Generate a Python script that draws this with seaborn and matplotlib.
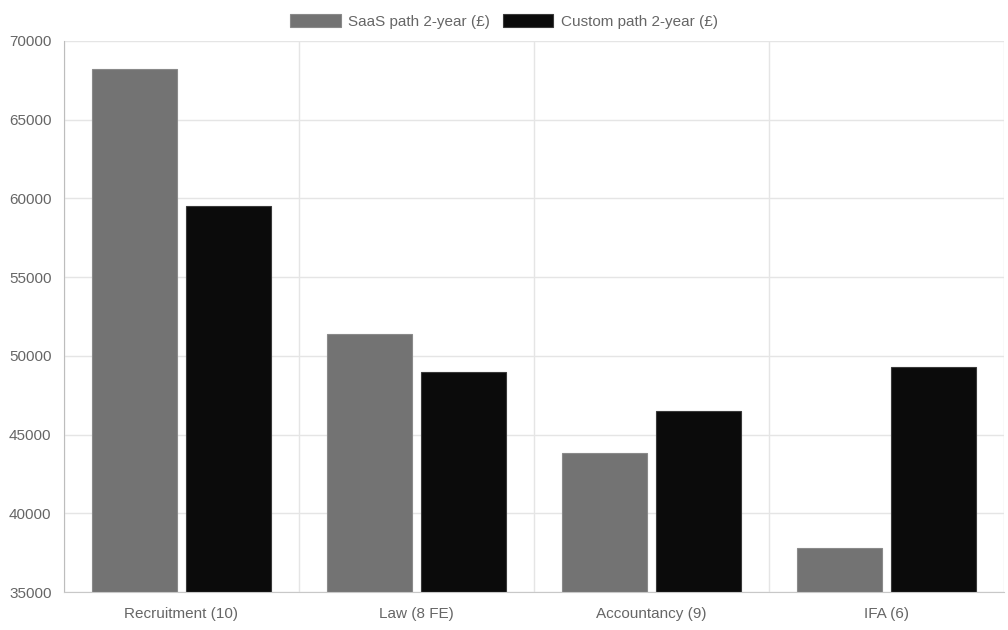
"""Two-year cost by sector: SaaS path vs custom path

"""

import pandas as pd
import seaborn as sns
import matplotlib.pyplot as plt
from matplotlib.ticker import FixedLocator

categories = ["Recruitment (10)", "Law (8 FE)", "Accountancy (9)", "IFA (6)"]
series_names = ["SaaS path 2-year (£)", "Custom path 2-year (£)"]
saas_values = [68200, 51400, 43800, 37800]
custom_values = [59500, 49000, 46500, 49300]
y_ticks = [35000, 40000, 45000, 50000, 55000, 60000, 65000, 70000]

TEXT = "#666666"
GRID = "#e5e5e5"

sns.set_style("white")
plt.rcParams["font.family"] = ["Liberation Sans", "DejaVu Sans"]

df = pd.DataFrame({
    "category": categories * 2,
    "series": [series_names[0]] * len(categories) + [series_names[1]] * len(categories),
    "value": saas_values + custom_values,
})

fig = plt.figure(figsize=(10.08, 6.3), dpi=100)
ax = fig.add_axes([64 / 1008, 38 / 630, 940 / 1008, 551 / 630])

palette = {series_names[0]: "#737373", series_names[1]: "#0b0b0b"}
sns.barplot(data=df, x="category", y="value", hue="series", order=categories,
    hue_order=series_names, palette=palette, width=0.8, gap=0.1,
    saturation=1, ax=ax, legend=False, zorder=2)

# thin lighter border on each bar
for container, edge in zip(ax.containers, ["#8a8a8a", "#3a3a3a"]):
    for bar in container:
        bar.set_edgecolor(edge)
        bar.set_linewidth(0.8)

ax.set_ylim(35000, 70000)
ax.set_xlim(-0.5, len(categories) - 0.5)
ax.set_yticks(y_ticks)
ax.set_yticklabels([str(v) for v in y_ticks])
ax.xaxis.set_minor_locator(FixedLocator([i - 0.5 for i in range(len(categories) + 1)]))

ax.set_xlabel("")
ax.set_ylabel("")
ax.tick_params(axis="both", which="major", labelsize=11, labelcolor=TEXT)
ax.tick_params(axis="y", length=6, color=GRID, width=1, pad=3)
ax.tick_params(axis="x", which="major", length=0, pad=11)
ax.tick_params(axis="x", which="minor", length=8.5, color=GRID, width=1)

ax.grid(axis="y", which="major", color=GRID, linewidth=1, zorder=0)
ax.grid(axis="x", which="minor", color=GRID, linewidth=1, zorder=0)
ax.set_axisbelow(True)

for side in ["top", "right"]:
    ax.spines[side].set_visible(False)
ax.spines["left"].set_color("#bdbdbd")
ax.spines["bottom"].set_color("#c8c8c8")

handles = [plt.Rectangle((0, 0), 1, 1, facecolor=palette[s],
    edgecolor="#8a8a8a" if i == 0 else "#3a3a3a", linewidth=0.8)
    for i, s in enumerate(series_names)]
leg = fig.legend(handles, series_names, loc="center", bbox_to_anchor=(0.5, 0.966),
    ncol=2, frameon=False, fontsize=11, handlelength=3.3, handleheight=0.9,
    handletextpad=0.5, columnspacing=0.8)
for text in leg.get_texts():
    text.set_color(TEXT)

fig.savefig("out.png", dpi=100)
